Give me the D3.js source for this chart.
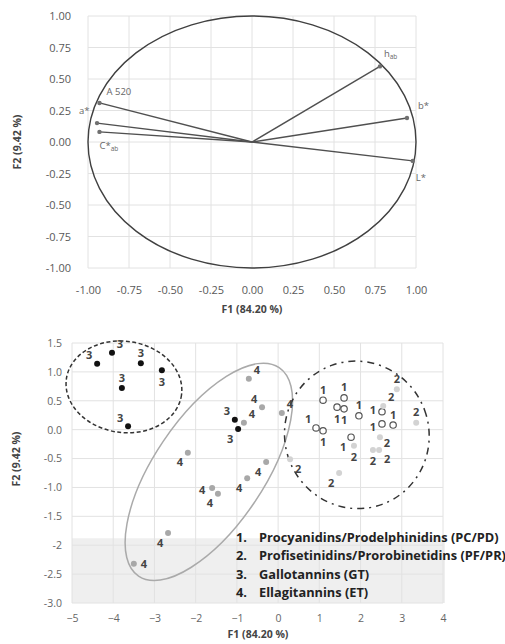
<!DOCTYPE html>
<html>
<head>
<meta charset="utf-8">
<script src="https://cdn.jsdelivr.net/npm/d3@7"></script>
<style>
  body { margin: 0; background: #fff; }
  svg { display: block; }
  text { font-family: "Open Sans", sans-serif; }
</style>
</head>
<body>
<script>
// ---- top panel: correlation circle ----
var topTicks = [-1, -0.75, -0.5, -0.25, 0, 0.25, 0.5, 0.75, 1];
var topTickLabels = ["-1.00", "-0.75", "-0.50", "-0.25", "0.00", "0.25", "0.50", "0.75", "1.00"];
var varMain = ["h", "b*", "L*", "A 520", "a*", "C*"];
var varSub  = ["ab", "", "", "", "", "ab"];
var varF1 = [0.78, 0.945, 0.98, -0.93, -0.945, -0.93];
var varF2 = [0.60, 0.19, -0.15, 0.31, 0.15, 0.08];

// ---- bottom panel: observations ----
var botTicksX = [-5, -4, -3, -2, -1, 0, 1, 2, 3, 4];
var botTicksY = [1.5, 1, 0.5, 0, -0.5, -1, -1.5, -2, -2.5, -3];
var botTickLabelsY = ["1.5", "1.0", "0.5", "0.0", "-0.5", "-1.0", "-1.5", "-2", "-2.5", "-3.0"];

var g1F1 = [1.09, 1.60, 1.43, 1.60, 1.96, 2.52, 2.52, 2.79, 0.92, 1.09, 1.77];
var g1F2 = [0.51, 0.55, 0.39, 0.36, 0.24, 0.31, 0.10, 0.08, 0.03, -0.02, -0.13];
var g2F1 = [2.88, 2.55, 3.35, 2.47, 1.84, 2.30, 2.45, 1.48, 0.29];
var g2F2 = [0.70, 0.41, 0.12, -0.13, -0.28, -0.35, -0.35, -0.75, -0.51];
var g3F1 = [-4.39, -4.03, -3.33, -2.82, -3.79, -3.64, -1.05, -0.97];
var g3F2 = [1.14, 1.33, 1.15, 1.03, 0.72, 0.06, 0.17, 0.01];
var g4F1 = [-0.71, -0.39, -0.83, 0.09, -2.19, -0.29, -0.75, -1.60, -1.46, -2.67, -3.50];
var g4F2 = [0.88, 0.39, 0.12, 0.29, -0.40, -0.56, -0.84, -1.01, -1.11, -1.79, -2.32];

var legendItems = [
  "Procyanidins/Prodelphinidins (PC/PD)",
  "Profisetinidins/Prorobinetidins (PF/PR)",
  "Gallotannins (GT)",
  "Ellagitannins (ET)"
];

// label placement around each point (direction codes)
var g1Lab = ["u", "u", "d", "d", "u", "lu", "ld", "u", "ul", "d", "dl"];
var g2Lab = ["u", "ur", "u", "rd", "d", "d", "dr", "dl", "dr"];
var g3Lab = ["ul", "ur", "u", "d", "u", "ul", "ul", "dl"];
var g4Lab = ["ur", "ul", "ur", "ur", "dl", "dl", "dl", "l", "dl", "dl", "r"];

// group enclosures, in F1/F2 units
var encCx = [-3.74, -1.68, 1.91];
var encCy = [0.74, -0.73, -0.09];
var encRx = [1.41, 3.05, 1.75];
var encRy = [0.79, 0.95, 1.28];
var encAngle = [8, -56, -20];

var svg = d3.select("body").append("svg").attr("width", 505).attr("height", 644);

// ================= top chart =================
var xT = d3.scaleLinear().domain([-1, 1]).range([88, 416]);
var yT = d3.scaleLinear().domain([-1, 1]).range([268, 16]);
var topG = svg.append("g");

topG.append("g").selectAll("line").data(topTicks).enter().append("line")
  .attr("x1", function(d) { return xT(d); }).attr("x2", function(d) { return xT(d); })
  .attr("y1", yT(1)).attr("y2", yT(-1))
  .style("stroke", "#e2e2e2").style("stroke-width", 1);
topG.append("g").selectAll("line").data(topTicks).enter().append("line")
  .attr("y1", function(d) { return yT(d); }).attr("y2", function(d) { return yT(d); })
  .attr("x1", xT(-1)).attr("x2", xT(1))
  .style("stroke", "#e2e2e2").style("stroke-width", 1);

var axXT = d3.axisBottom(xT).tickValues(topTicks).tickSize(0).tickPadding(0)
  .tickFormat(function(d, i) { return topTickLabels[i]; });
var gxT = topG.append("g").attr("transform", "translate(0,286)").call(axXT);
var axYT = d3.axisLeft(yT).tickValues(topTicks).tickSize(0).tickPadding(0)
  .tickFormat(function(d, i) { return topTickLabels[i]; });
var gyT = topG.append("g").attr("transform", "translate(71,0)").call(axYT);
[gxT, gyT].forEach(function(g) {
  g.select(".domain").remove();
  g.selectAll("text").style("font-family", "Open Sans").style("font-size", "11px").style("fill", "#595959");
});

topG.append("ellipse")
  .attr("cx", xT(0)).attr("cy", yT(0))
  .attr("rx", xT(1) - xT(0)).attr("ry", yT(0) - yT(1))
  .style("fill", "none").style("stroke", "#404040").style("stroke-width", 1.4);

var vars = varF1.map(function(v, i) { return { x: v, y: varF2[i], m: varMain[i], s: varSub[i] }; });
topG.selectAll(".vec").data(vars).enter().append("line")
  .attr("x1", xT(0)).attr("y1", yT(0))
  .attr("x2", function(d) { return xT(d.x); }).attr("y2", function(d) { return yT(d.y); })
  .style("stroke", "#505050").style("stroke-width", 1.4);
topG.selectAll(".tip").data(vars).enter().append("circle")
  .attr("cx", function(d) { return xT(d.x); }).attr("cy", function(d) { return yT(d.y); })
  .attr("r", 2.2).style("fill", "#707070");

var vecOff = [[4, -9], [11, -9], [3, 20], [7, -8], [-18, -9], [0, 17]];
var vl = topG.selectAll(".vlab").data(vars).enter().append("text")
  .attr("x", function(d, i) { return xT(d.x) + vecOff[i][0]; })
  .attr("y", function(d, i) { return yT(d.y) + vecOff[i][1]; })
  .style("font-size", "9.5px").style("fill", "#666");
vl.append("tspan").text(function(d) { return d.m; });
vl.append("tspan").attr("dy", 2).style("font-size", "6.5px").text(function(d) { return d.s; });

topG.append("text").attr("x", 252).attr("y", 313).attr("text-anchor", "middle")
  .style("font-size", "10.5px").style("font-weight", "bold").style("fill", "#444")
  .text("F1 (84.20 %)");
topG.append("text").attr("transform", "translate(21,142) rotate(-90)").attr("text-anchor", "middle")
  .style("font-size", "10.5px").style("font-weight", "bold").style("fill", "#444")
  .text("F2 (9.42 %)");

// ================= bottom chart =================
var xB = d3.scaleLinear().domain([-5, 4]).range([72, 443]);
var yB = d3.scaleLinear().domain([-3, 1.5]).range([603, 343]);
var bot = svg.append("g");

// legend background
bot.append("rect")
  .attr("x", xB(-5)).attr("y", yB(-1.88))
  .attr("width", xB(4) - xB(-5) + 2).attr("height", yB(-3) - yB(-1.88))
  .style("fill", "#efefef");

bot.append("g").selectAll("line").data(botTicksX).enter().append("line")
  .attr("x1", function(d) { return xB(d); }).attr("x2", function(d) { return xB(d); })
  .attr("y1", yB(1.5)).attr("y2", yB(-3))
  .style("stroke", "#e2e2e2");
bot.append("g").selectAll("line").data(botTicksY).enter().append("line")
  .attr("y1", function(d) { return yB(d); }).attr("y2", function(d) { return yB(d); })
  .attr("x1", xB(-5)).attr("x2", xB(4))
  .style("stroke", "#e2e2e2");

var gxB = bot.append("g").attr("transform", "translate(0,615)")
  .call(d3.axisBottom(xB).tickValues(botTicksX).tickSize(0).tickPadding(0).tickFormat(d3.format("d")));
var gyB = bot.append("g").attr("transform", "translate(62,0)")
  .call(d3.axisLeft(yB).tickValues(botTicksY).tickSize(0).tickPadding(0)
    .tickFormat(function(d, i) { return botTickLabelsY[i]; }));
[gxB, gyB].forEach(function(g) {
  g.select(".domain").remove();
  g.selectAll("text").style("font-family", "Open Sans").style("font-size", "10.5px").style("fill", "#666");
});

// enclosures
var encStroke = ["#333", "#aaa", "#333"];
var encDash = ["4,2.5", null, "7,5,2,5"];
encCx.forEach(function(c, i) {
  bot.append("ellipse")
    .attr("transform", "translate(" + xB(c) + "," + yB(encCy[i]) + ") rotate(" + encAngle[i] + ")")
    .attr("rx", xB(encRx[i]) - xB(0)).attr("ry", yB(0) - yB(encRy[i]))
    .style("fill", "none").style("stroke", encStroke[i]).style("stroke-width", 1.5)
    .style("stroke-dasharray", encDash[i]);
});

// points
var groups = [
  { id: 1, f1: g1F1, f2: g1F2, lab: g1Lab, fill: "#fff", stroke: "#555" },
  { id: 2, f1: g2F1, f2: g2F2, lab: g2Lab, fill: "#d3d3d3", stroke: "none" },
  { id: 3, f1: g3F1, f2: g3F2, lab: g3Lab, fill: "#111", stroke: "none" },
  { id: 4, f1: g4F1, f2: g4F2, lab: g4Lab, fill: "#a8a8a8", stroke: "none" }
];
var dirs = {
  u: [0, -11], d: [0, 11], l: [-10, 1], r: [10, 0],
  ul: [-8, -9], ur: [8, -9], dl: [-8, 9], dr: [8, 9],
  lu: [-9, -2], ld: [-9, 3], rd: [7, 5]
};

groups.forEach(function(g) {
  var pts = g.f1.map(function(v, i) { return { x: v, y: g.f2[i], l: g.lab[i] }; });
  bot.selectAll(".p" + g.id).data(pts).enter().append("circle")
    .attr("cx", function(d) { return xB(d.x); }).attr("cy", function(d) { return yB(d.y); })
    .attr("r", g.id === 1 ? 3.2 : 3)
    .style("fill", g.fill).style("stroke", g.stroke).style("stroke-width", 1.2);
  bot.selectAll(".t" + g.id).data(pts).enter().append("text")
    .attr("x", function(d) { return xB(d.x) + dirs[d.l][0]; })
    .attr("y", function(d) { return yB(d.y) + dirs[d.l][1]; })
    .attr("text-anchor", "middle").attr("dominant-baseline", "central")
    .style("font-size", "11px").style("font-weight", "bold").style("fill", "#444")
    .text(g.id);
});

// legend
var leg = bot.selectAll(".leg").data(legendItems).enter().append("g")
  .attr("transform", function(d, i) { return "translate(236," + (537 + i * 18.3) + ")"; });
leg.append("text").attr("dominant-baseline", "central")
  .style("font-size", "12.8px").style("font-weight", "bold").style("fill", "#222")
  .text(function(d, i) { return (i + 1) + "."; });
leg.append("text").attr("x", 23).attr("dominant-baseline", "central")
  .style("font-size", "12.8px").style("font-weight", "bold").style("fill", "#222")
  .text(function(d) { return d; });

bot.append("text").attr("x", 258).attr("y", 638).attr("text-anchor", "middle")
  .style("font-size", "10.5px").style("font-weight", "bold").style("fill", "#444")
  .text("F1 (84.20 %)");
bot.append("text").attr("transform", "translate(20,459) rotate(-90)").attr("text-anchor", "middle")
  .style("font-size", "10.5px").style("font-weight", "bold").style("fill", "#444")
  .text("F2 (9.42 %)");
</script>
</body>
</html>
